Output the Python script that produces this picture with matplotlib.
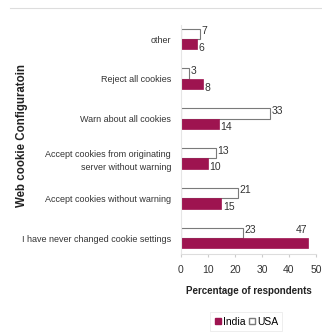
import matplotlib
matplotlib.use("Agg")
import matplotlib.pyplot as plt
from matplotlib.lines import Line2D
from matplotlib.patches import Patch
import numpy as np

plt.rcParams['font.family'] = ['Liberation Sans', 'DejaVu Sans']

categories = ["other", "Reject all cookies", "Warn about all cookies",
              "Accept cookies from originating\nserver without warning",
              "Accept cookies without warning",
              "I have never changed cookie settings"]
usa = [7, 3, 33, 13, 21, 23]
india = [6, 8, 14, 10, 15, 47]
series_names = ["India", "USA"]
xticks = [0, 10, 20, 30, 40, 50]

india_color = "#9e1450"
edge_gray = "#7a7a7a"

fig = plt.figure(figsize=(3.22, 3.35), dpi=100)
ax = fig.add_axes([0.562, 0.242, 0.419, 0.683])

y = np.arange(len(categories))
h = 0.26
ax.barh(y - h / 2, usa, height=h, color="white", edgecolor=edge_gray, linewidth=0.8)
ax.barh(y + h / 2, india, height=h, color=india_color, edgecolor=india_color, linewidth=0.5)

vfs = 7.5
for i in range(len(categories)):
    ax.text(usa[i] + 0.6, y[i] - h * 0.75, str(usa[i]), fontsize=vfs,
            color="#333333", ha="left", va="center")
    if india[i] > 40:
        ax.text(india[i] - 2.5, y[i] - h * 0.75, str(india[i]), fontsize=vfs,
                color="#333333", ha="center", va="center")
    else:
        ax.text(india[i] + 0.6, y[i] + h * 0.85, str(india[i]), fontsize=vfs,
                color="#333333", ha="left", va="center")

ax.set_ylim(5.4, -0.35)
ax.set_xlim(0, 50)
ax.set_yticks(y)
ax.set_yticklabels(categories, fontsize=6.5, color="#333333", linespacing=1.55)
ax.tick_params(axis="y", length=0, pad=7)
ax.set_xticks(xticks)
ax.set_xticklabels([str(t) for t in xticks], fontsize=7.5, color="#333333")
ax.tick_params(axis="x", length=2, color="#cccccc", pad=6)

for s in ["top", "right"]:
    ax.spines[s].set_visible(False)
ax.spines["left"].set_color("#e6e6e6")
ax.spines["bottom"].set_color("#dddddd")

ax.set_xlabel("Percentage of respondents", fontsize=7.0, fontweight="bold",
              color="#222222", labelpad=8)
fig.text(0.068, 0.597, "Web cookie Configuratoin", rotation=90, fontsize=8.3,
         fontweight="bold", color="#222222", ha="center", va="center")

fig.add_artist(Line2D([0.03, 1.0], [0.975, 0.975], color="#dddddd", linewidth=0.8))

handles = [Patch(facecolor=india_color, edgecolor=india_color),
           Patch(facecolor="white", edgecolor=edge_gray)]
leg = fig.legend(handles, series_names, loc="center", bbox_to_anchor=(0.765, 0.04),
                 ncol=2, fontsize=7.5, frameon=True, handlelength=0.6, handleheight=0.6,
                 handletextpad=0.2, columnspacing=0.3, borderpad=0.4, fancybox=False)
leg.get_frame().set_edgecolor("#e6e6e6")
leg.get_frame().set_linewidth(0.6)

fig.savefig("out.png", dpi=100)
